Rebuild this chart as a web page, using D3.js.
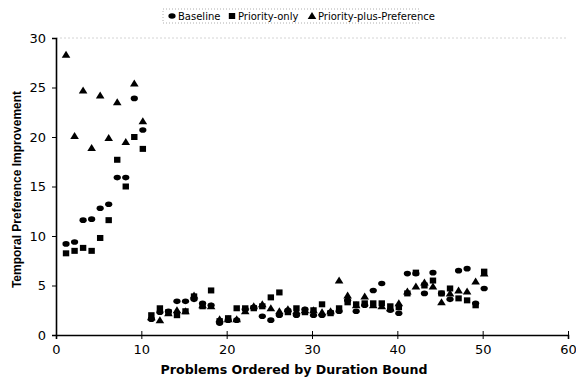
<!DOCTYPE html>
<html>
<head>
<meta charset="utf-8">
<script src="https://cdn.jsdelivr.net/npm/d3@7"></script>
<style>
  body { margin: 0; background: #fff; }
  svg { display: block; }
</style>
</head>
<body>
<div id="chart"></div>
<script>
// problem index 1..50
var problems = d3.range(1, 51);

var baseline = [9.2, 9.4, 11.6, 11.7, 12.8, 13.2, 15.9, 15.9, 23.9, 20.7,
  1.6, 2.3, 2.4, 3.4, 3.4, 3.6, 3.2, 3.0, 1.2, 1.5,
  1.5, 2.6, 2.8, 1.9, 1.5, 2.0, 2.5, 2.0, 2.6, 2.0,
  2.0, 2.3, 2.4, 3.5, 2.4, 3.0, 4.5, 5.2, 2.5, 2.2,
  6.2, 6.2, 4.2, 6.3, 4.2, 3.6, 6.5, 6.7, 3.2, 4.7];

var priorityOnly = [8.25, 8.5, 8.8, 8.5, 9.8, 11.6, 17.7, 15.0, 20.0, 18.8,
  2.0, 2.7, 2.3, 2.0, 2.4, 3.9, 2.9, 4.5, 1.4, 1.7,
  2.7, 2.7, 2.7, 2.9, 3.8, 4.3, 2.3, 2.7, 2.3, 2.5,
  3.1, 2.2, 2.7, 3.3, 3.1, 3.2, 3.2, 3.2, 2.9, 2.8,
  4.2, 6.3, 5.0, 5.5, 4.2, 4.7, 3.7, 3.5, 3.0, 6.4];

var priorityPlusPref = [28.3, 20.1, 24.7, 18.9, 24.2, 19.9, 23.5, 19.5, 25.4, 21.6,
  1.8, 1.5, 2.2, 2.5, 2.4, 4.0, 3.0, 2.9, 1.6, 1.6,
  1.6, 2.4, 2.9, 3.1, 2.7, 2.4, 2.6, 2.4, 2.5, 2.5,
  2.3, 2.4, 5.5, 4.0, 3.0, 3.9, 3.0, 2.9, 2.7, 3.2,
  4.4, 4.9, 5.3, 4.9, 3.3, 4.2, 4.5, 4.4, 5.4, 6.2];

var xTicks = [0, 10, 20, 30, 40, 50, 60];
var yTicks = [0, 5, 10, 15, 20, 25, 30];

var series = [
  {name: 'Baseline', values: baseline, shape: 'circle'},
  {name: 'Priority-only', values: priorityOnly, shape: 'square'},
  {name: 'Priority-plus-Preference', values: priorityPlusPref, shape: 'triangle'}
];

var W = 576, H = 377;
var margin = {left: 56, right: 8, top: 38, bottom: 42};

var svg = d3.select('#chart').append('svg')
    .attr('width', W)
    .attr('height', H);

var x = d3.scaleLinear().domain([0, 60]).range([margin.left, W - margin.right]);
var y = d3.scaleLinear().domain([0, 30]).range([H - margin.bottom, margin.top]);

// draw a marker of the given shape centred on (cx, cy)
function marker(g, shape, cx, cy) {
  if (shape == 'circle') {
    g.append('ellipse').attr('cx', cx).attr('cy', cy)
        .attr('rx', 3.6).attr('ry', 2.8).attr('fill', '#000');
  } else if (shape == 'square') {
    g.append('rect').attr('x', cx - 3.2).attr('y', cy - 3)
        .attr('width', 6.4).attr('height', 6).attr('fill', '#000');
  } else {
    g.append('path')
        .attr('d', 'M' + cx + ',' + (cy - 4) + 'L' + (cx + 4.3) + ',' + (cy + 3) + 'L' + (cx - 4.3) + ',' + (cy + 3) + 'Z')
        .attr('fill', '#000');
  }
}

// faint top edge of the plot area
svg.append('line')
    .attr('x1', x(0)).attr('x2', x(60))
    .attr('y1', y(30)).attr('y2', y(30))
    .attr('stroke', '#d4d4d4').attr('stroke-width', 1)
    .attr('stroke-dasharray', '2,2');

// y axis
var yAxis = d3.axisLeft(y).tickValues(yTicks).tickSize(4).tickPadding(6);
var gy = svg.append('g').attr('transform', 'translate(' + x(0) + ',0)').call(yAxis);
gy.select('.domain').attr('stroke', '#000').attr('stroke-width', 1.6);
gy.selectAll('.tick line').attr('stroke', '#000');
gy.selectAll('text')
    .style('font-family', 'DejaVu Sans, Verdana, sans-serif')
    .style('font-size', '13px')
    .attr('fill', '#000');

// x axis
var xAxis = d3.axisBottom(x).tickValues(xTicks).tickSize(4).tickPadding(6);
var gx = svg.append('g').attr('transform', 'translate(0,' + y(0) + ')').call(xAxis);
gx.select('.domain').attr('stroke', '#000').attr('stroke-width', 1.6);
gx.selectAll('.tick line').attr('stroke', '#000').attr('y1', -4);
gx.selectAll('text')
    .style('font-family', 'DejaVu Sans, Verdana, sans-serif')
    .style('font-size', '13px')
    .attr('fill', '#000');

// axis titles
svg.append('text')
    .attr('x', 294)
    .attr('y', 374)
    .attr('text-anchor', 'middle')
    .style('font-family', 'DejaVu Sans, Verdana, sans-serif')
    .style('font-size', '12.6px')
    .style('font-weight', 'bold')
    .text('Problems Ordered by Duration Bound');

svg.append('text')
    .attr('transform', 'translate(21,' + (y(15) + 3) + ') rotate(-90)')
    .attr('text-anchor', 'middle')
    .style('font-family', 'Liberation Sans Narrow, Liberation Sans, Arial, sans-serif')
    .style('font-size', '12px')
    .style('font-weight', 'bold')
    .text('Temporal Preference Improvement');

// points
var plot = svg.append('g');
series.forEach(function(s) {
  s.values.forEach(function(v, i) {
    marker(plot, s.shape, x(problems[i]) + 1.5, y(v));
  });
});

// legend
var legend = svg.append('g');
var items = [
  {x: 172, shape: 'circle', label: 'Baseline'},
  {x: 232, shape: 'square', label: 'Priority-only'},
  {x: 312, shape: 'triangle', label: 'Priority-plus-Preference'}
];
legend.append('rect')
    .attr('x', 163).attr('y', 9).attr('width', 256).attr('height', 14)
    .attr('fill', 'none').attr('stroke', '#999')
    .attr('stroke-width', 0.8).attr('stroke-dasharray', '1,2');
items.forEach(function(d) {
  marker(legend, d.shape, d.x, 16);
  legend.append('text')
      .attr('x', d.x + 6).attr('y', 20)
      .style('font-family', 'DejaVu Sans, Verdana, sans-serif')
      .style('font-size', '10px')
      .text(d.label);
});
</script>
</body>
</html>
